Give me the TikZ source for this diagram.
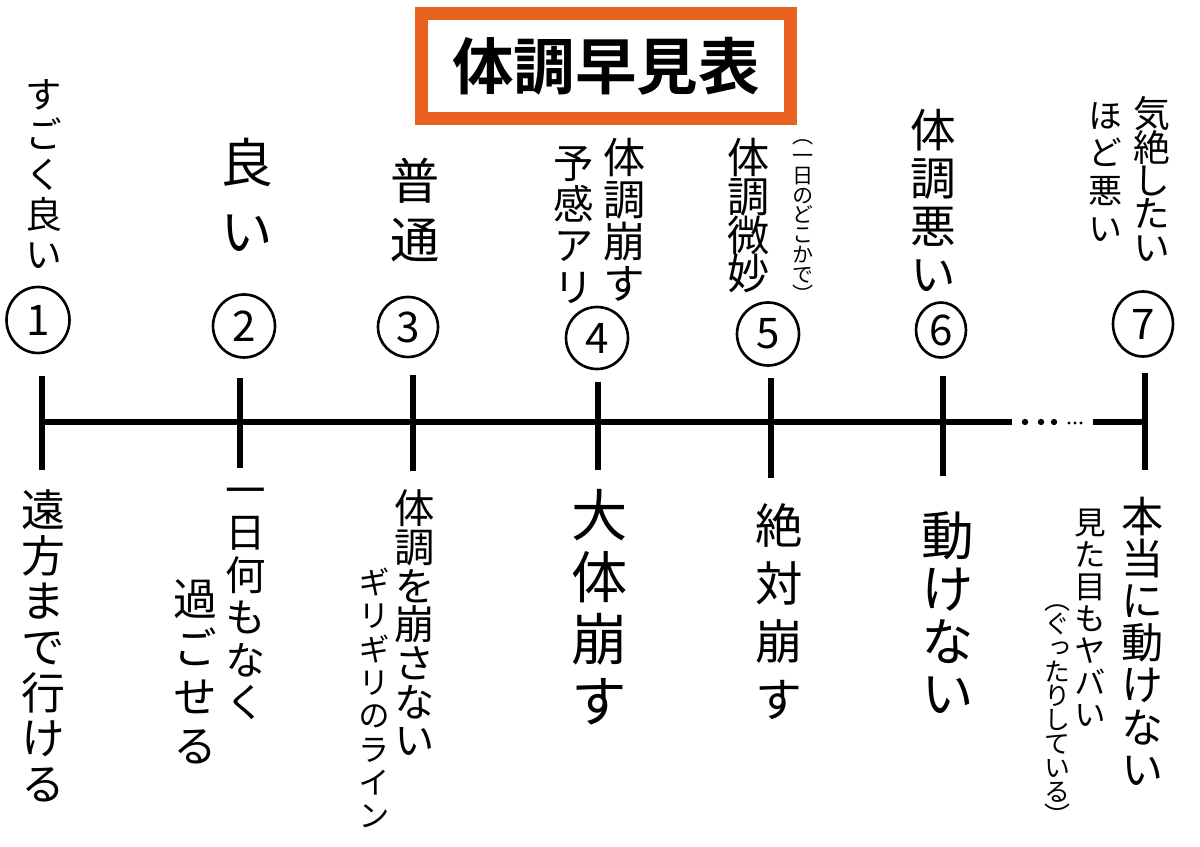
\documentclass[tikz,border=0pt]{standalone}
\usepackage{fontspec}
\usetikzlibrary{shapes.geometric}
\newfontfamily\jpfont{Noto Sans CJK JP}[BoldFont={Noto Sans CJK JP Bold}]
\newfontfamily\jpvert{Noto Sans CJK JP}[Script=CJK,RawFeature=+vert]
\definecolor{titleCol}{HTML}{E9621F}
\tikzset{
  titlebox/.style={draw=titleCol, line width=7.4pt, minimum width=7.4cm, minimum height=2.1cm,
                   inner sep=0pt, font=\jpfont\bfseries\fontsize{35pt}{40pt}\selectfont},
  axis/.style={line width=3.4pt},
  tickln/.style={line width=3.4pt},
  numc/.style={draw, ellipse, line width=1.5pt, inner sep=0pt,
               font=\jpfont\fontsize{24pt}{24pt}\selectfont},
  vtxt/.style 2 args={font={\jpvert\fontsize{#1}{#2}\selectfont\lineskiplimit=-\maxdimen},
                      align=center, inner sep=0pt},
}
\begin{document}
\begin{tikzpicture}[x=0.02cm, y=-0.02cm]
  \useasboundingbox (0,0) rectangle (1200,847);
  \node[titlebox] (title) at (606,66) {体調早見表};

  % axis and ticks
  \foreach \n/\x/\ya/\yb in {1/42/376/470, 2/240/378/468, 3/413/375/471, 4/598/382/470,
                             5/771/378/478, 6/943/376/476, 7/1145/373/470}{
    \coordinate (t\n) at (\x,422);
    \draw[tickln] (\x,\ya) -- (\x,\yb);
  }
  \coordinate (gapL) at (1012,422);
  \coordinate (gapR) at (1093,422);
  \draw[axis] (t1) -- (gapL);
  \draw[axis] (gapR) -- (t7);
  \foreach \x in {1025,1041,1054} \fill (\x,422) circle[radius=1.8pt];
  \foreach \x in {1069,1075,1081} \fill (\x,423) circle[radius=0.9pt];

  % numbered circles
  \foreach \n/\x/\y/\w/\h in {1/38/320/1.26/1.32, 2/244/326/1.24/1.26, 3/408/327/1.2/1.2,
                              4/597/338/1.24/1.24, 5/768/334/1.24/1.26, 6/941/330/1.0/1.1,
                              7/1143/324/1.2/1.3}
    \node[numc, minimum width=\w cm, minimum height=\h cm] (c\n) at (\x,\y) {\n};

  % upper labels
  \node[vtxt={21pt}{22.8pt}] (top1) at (44,174) {す\\ご\\く\\良\\い};
  \node[vtxt={30pt}{39pt}] (top2) at (247,195) {良\\い};
  \node[vtxt={28pt}{34pt}] (top3) at (415,210) {普\\通};
  \node[vtxt={24pt}{24pt}] (top4a) at (625,220) {体\\調\\崩\\す};
  \node[vtxt={23pt}{23.4pt}] (top4b) at (574,225) {予\\感\\ア\\リ};
  \node[vtxt={12pt}{11.3pt}] (top5a) at (803,221) {（\\一\\日\\の\\ど\\こ\\か\\で\\）};
  \node[vtxt={24pt}{22pt}] (top5b) at (749,216) {体\\調\\微\\妙};
  \node[vtxt={26pt}{27.3pt}] (top6) at (933,200) {体\\調\\悪\\い};
  \node[vtxt={21pt}{19pt}] (top7a) at (1152,179) {気\\絶\\し\\た\\い};
  \node[vtxt={19.4pt}{21.6pt}] (top7b) at (1106,172) {ほ\\ど\\悪\\い};

  % lower labels
  \node[vtxt={25pt}{26pt}] (bot1) at (43,646) {遠\\方\\ま\\で\\行\\け\\る};
  \node[vtxt={23pt}{24.2pt}] (bot2a) at (246,604) {一\\日\\何\\も\\な\\く};
  \node[vtxt={25pt}{28pt}] (bot2b) at (195,672) {過\\ご\\せ\\る};
  \node[vtxt={23pt}{22pt}] (bot3a) at (415,623) {体\\調\\を\\崩\\さ\\な\\い};
  \node[vtxt={18pt}{19pt}] (bot3b) at (374,698) {ギ\\リ\\ギ\\リ\\の\\ラ\\イ\\ン};
  \node[vtxt={32pt}{35.3pt}] (bot4) at (600,607) {大\\体\\崩\\す};
  \node[vtxt={27pt}{33pt}] (bot5) at (779,612) {絶\\対\\崩\\す};
  \node[vtxt={30pt}{30pt}] (bot6) at (948,613) {動\\け\\な\\い};
  \node[vtxt={24pt}{24pt}] (bot7a) at (1143,641) {本\\当\\に\\動\\け\\な\\い};
  \node[vtxt={18pt}{18.2pt}] (bot7b) at (1090,618) {見\\た\\目\\も\\ヤ\\バ\\い};
  \node[vtxt={14.8pt}{13.7pt}] (bot7c) at (1057,715) {（\\ぐ\\っ\\た\\り\\し\\て\\い\\る\\）};
\end{tikzpicture}
\end{document}
